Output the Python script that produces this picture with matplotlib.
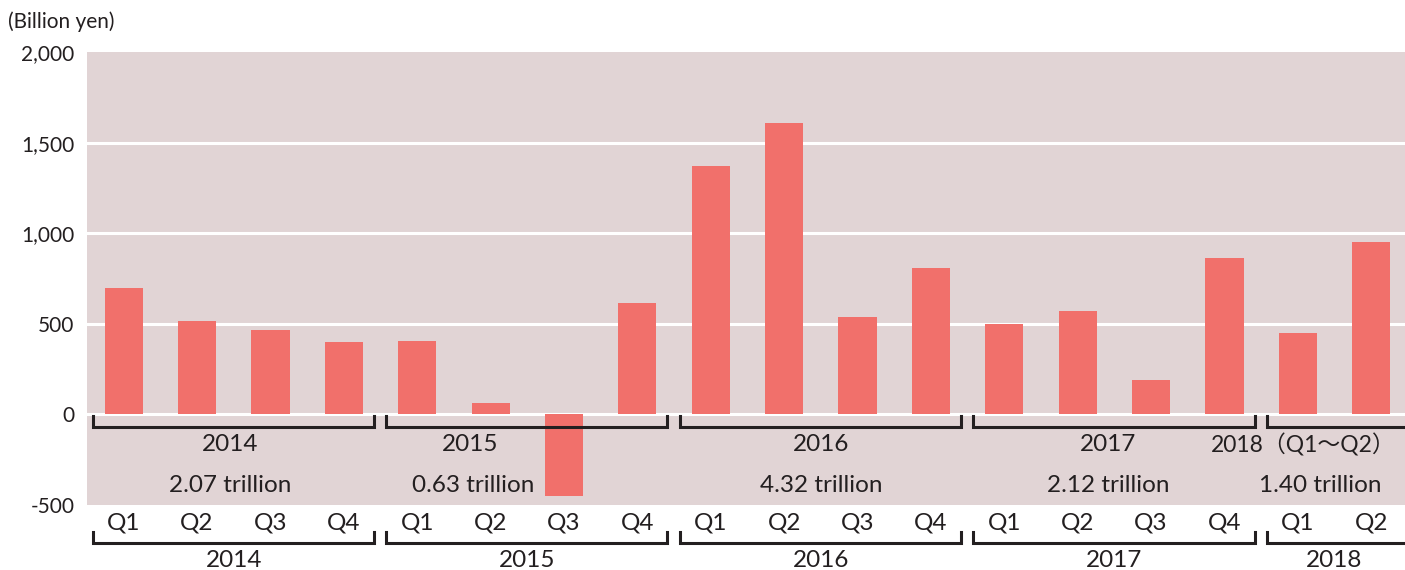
import matplotlib.pyplot as plt

# quarterly values (billion yen)
quarters = ['Q1', 'Q2', 'Q3', 'Q4'] * 4 + ['Q1', 'Q2']
values = [700, 515, 465, 400,
          405, 65, -450, 615,
          1370, 1610, 540, 810,
          500, 570, 190, 865,
          450, 955]
years = ['2014', '2015', '2016', '2017', '2018']
year_notes = ['2014', '2015', '2016', '2017', '2018\uff08Q1\u301cQ2\uff09']
totals = ['2.07 trillion', '0.63 trillion', '4.32 trillion', '2.12 trillion', '1.40 trillion']
group_sizes = [4, 4, 4, 4, 2]
yticks = [-500, 0, 500, 1000, 1500, 2000]

fam = ['Lato', 'Noto Sans CJK JP', 'DejaVu Sans']
plt.rcParams['font.family'] = fam

BAR = '#f1706b'
BG = '#e1d4d5'
INK = '#231f20'
FS = 17.5

fig = plt.figure(figsize=(14.05, 5.7), dpi=100)
ax = fig.add_axes([87 / 1405, (570 - 505) / 570, 1 - 87 / 1405, (505 - 52.3) / 570])
ax.set_facecolor(BG)
for s in ax.spines.values():
    s.set_visible(False)

x = list(range(len(values)))
for yv in [0, 500, 1000, 1500]:
    ax.axhline(yv, color='white', lw=2.2, zorder=1)
ax.bar(x, values, width=0.52, color=BAR, zorder=2)

ax.set_xlim(-0.5, 17.46)
ax.set_ylim(-500, 2000)
ax.set_xticks([])
ax.set_yticks(yticks)
ax.set_yticklabels(['{:,}'.format(v) for v in yticks], fontsize=15, color=INK)
ax.tick_params(axis='y', length=0, pad=9)

fig.text(8 / 1405, 1 - 22 / 570, '(Billion yen)', fontsize=15, color=INK, va='center', ha='left')

# brackets and labels
year_x = [1.45, 4.72, 9.5, 13.42, 17.33]
total_x = [1.45, 4.76, 9.5, 13.42, 16.3]
start = 0
for i, n in enumerate(group_sizes):
    x0 = start - 0.42
    x1 = start + n - 1 + 0.41 if i < len(group_sizes) - 1 else 17.8
    # upper bracket (inside plot)
    ax.plot([x0, x0, x1, x1], [-10, -70, -70, -10], color=INK, lw=2.2,
            solid_joinstyle='miter', zorder=3)
    # lower bracket (below plot)
    ax.plot([x0, x0, x1, x1], [-648, -708, -708, -648], color=INK, lw=2.2,
            solid_joinstyle='miter', clip_on=False, zorder=3)
    if i < len(group_sizes) - 1:
        ax.text(year_x[i], -168, year_notes[i], ha='center', va='center', fontsize=FS, color=INK)
    else:
        # last note is partly full-width, anchor right so it stays inside
        ax.text(year_x[i], -168, year_notes[i], ha='right', va='center', fontsize=FS - 1, color=INK)
    ax.text(total_x[i], -392, totals[i], ha='center', va='center', fontsize=FS, color=INK)
    ax.text(start + (n - 1) / 2, -805, years[i], ha='center', va='center', fontsize=FS,
            color=INK, clip_on=False)
    start += n

for xi, q in zip(x, quarters):
    ax.text(xi, -598, q, ha='center', va='center', fontsize=FS, color=INK, clip_on=False)

fig.savefig('out.png', dpi=100)
